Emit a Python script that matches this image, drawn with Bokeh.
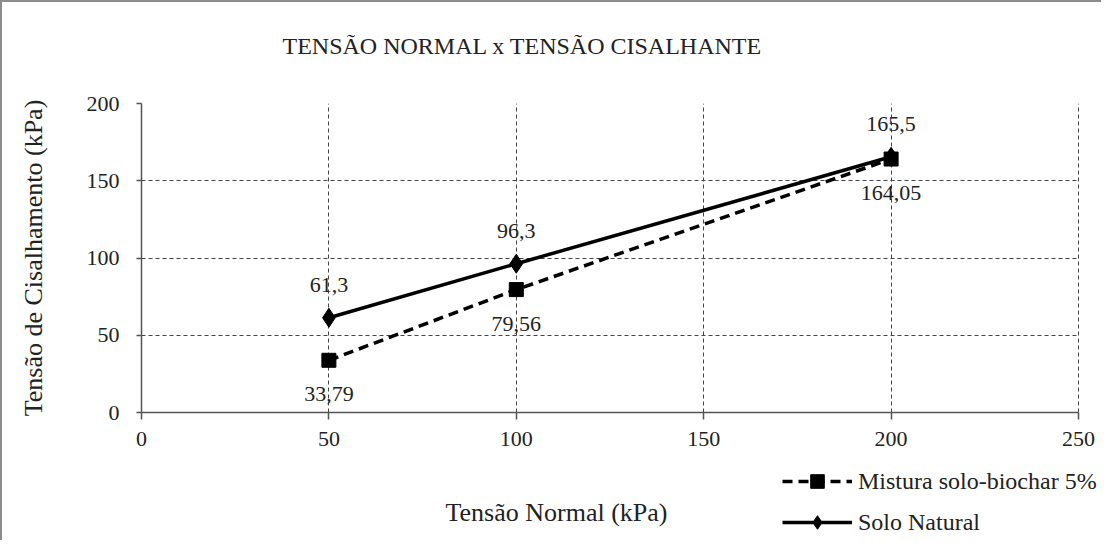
from bokeh.plotting import figure
from bokeh.layouts import column
from bokeh.models import Legend, LegendItem, FixedTicker, ColumnDataSource, Range1d, Label
from bokeh.core.properties import value
from bokeh.embed import file_html
from bokeh.resources import INLINE

tensao_normal = [50, 100, 200]
mistura = [33.79, 79.56, 164.05]
natural = [61.3, 96.3, 165.5]
mistura_labels = ["33,79", "79,56", "164,05"]
natural_labels = ["61,3", "96,3", "165,5"]
x_ticks = [0, 50, 100, 150, 200, 250]
y_ticks = [0, 50, 100, 150, 200]

FONT = "Liberation Serif"
TXT = "#222222"
BORDER = "2px solid #8c8c8c"

# frame runs a little past x=250 so the legend below has room; axis/grid stop at 250
X_MAX = 250
X_VIEW = X_MAX * 961 / 937


def strip(height, styles):
    f = figure(width=1101, height=height, output_backend="svg", toolbar_location=None,
               x_range=Range1d(0, 1), y_range=Range1d(0, 1),
               x_axis_location=None, y_axis_location=None,
               min_border_left=139, min_border_right=1, min_border_top=0, min_border_bottom=0)
    f.styles = styles
    f.outline_line_color = None
    f.xgrid.visible = False
    f.ygrid.visible = False
    return f


# ---------------- top strip: chart title ----------------
t = strip(80, {"border-left": BORDER, "border-top": BORDER})
t.add_layout(Label(x=384, y=37, x_units="screen", y_units="screen",
                   text="TENSÃO NORMAL x TENSÃO  CISALHANTE", text_font=FONT,
                   text_font_size="24px", text_align="center", text_baseline="middle",
                   text_color=TXT))

# ---------------- main chart ----------------
p = figure(width=1101, height=382, output_backend="svg", toolbar_location=None,
           x_range=Range1d(0, X_VIEW), y_range=Range1d(0, 200),
           min_border_left=139, min_border_right=1, min_border_top=23, min_border_bottom=50)
p.styles = {"border-left": BORDER}
p.outline_line_color = None

for ax, ticks in ((p.xaxis, x_ticks), (p.yaxis, y_ticks)):
    ax.ticker = FixedTicker(ticks=ticks)
    ax.minor_tick_line_color = None
    ax.major_tick_in = 0
    ax.axis_line_color = "#555555"
    ax.axis_line_width = 1.5
    ax.major_tick_line_color = "#555555"
    ax.major_tick_line_width = 1.5
    ax.major_label_text_font = FONT
    ax.major_label_text_font_size = "22px"
    ax.major_label_text_color = TXT
p.xaxis.bounds = (0, X_MAX)
p.xaxis.major_tick_out = 7
p.xaxis.major_label_standoff = 12
p.yaxis.major_tick_out = 5
p.yaxis.major_label_standoff = 17

p.yaxis.axis_label = "Tensão de Cisalhamento (kPa)"
p.yaxis.axis_label_text_font = FONT
p.yaxis.axis_label_text_font_style = "normal"
p.yaxis.axis_label_text_font_size = "26px"
p.yaxis.axis_label_text_color = TXT
p.yaxis.axis_label_standoff = 36

for g in (p.xgrid, p.ygrid):
    g.grid_line_color = "#444444"
    g.grid_line_dash = "4 3"
    g.grid_line_width = 1
p.xgrid.ticker = FixedTicker(ticks=x_ticks[1:])
p.ygrid.ticker = FixedTicker(ticks=y_ticks[1:])
try:
    p.ygrid.cross_bounds = (0, X_MAX)
except Exception:
    pass

src = ColumnDataSource(dict(x=tensao_normal, m=mistura, n=natural,
                            ml=mistura_labels, nl=natural_labels))

line_m = dict(line_color="black", line_width=3.5, line_dash="10 6")
line_n = dict(line_color="black", line_width=3.5)
mark_m = dict(marker="square", size=14, color="black")
mark_n = dict(marker="diamond", size=19, color="black")

p.line("x", "m", source=src, **line_m)
p.scatter("x", "m", source=src, **mark_m)
p.line("x", "n", source=src, **line_n)
p.scatter("x", "n", source=src, **mark_n)

p.text("x", "n", text="nl", source=src, text_font=value(FONT), text_font_size="22px",
       text_align="center", text_baseline="middle", y_offset=-33, text_color=TXT)
p.text("x", "m", text="ml", source=src, text_font=value(FONT), text_font_size="22px",
       text_align="center", text_baseline="middle", y_offset=34, text_color=TXT)

# ---------------- bottom strip: x-axis title + legend ----------------
q = strip(78, {"border-left": BORDER})
q.add_layout(Label(x=415, y=28, x_units="screen", y_units="screen",
                   text="Tensão Normal (kPa)", text_font=FONT,
                   text_font_size="26px", text_align="center", text_baseline="middle",
                   text_color=TXT))

# legend proxies (same data, lying outside this strip's view)
lm = q.line("x", "m", source=src, **line_m)
sm = q.scatter("x", "m", source=src, **mark_m)
ln = q.line("x", "n", source=src, **line_n)
sn = q.scatter("x", "n", source=src, **mark_n)

legend = Legend(items=[LegendItem(label="Mistura solo-biochar 5%", renderers=[lm, sm]),
                       LegendItem(label="Solo Natural", renderers=[ln, sn])],
                location=(641, 1), orientation="vertical",
                glyph_width=70, glyph_height=34, label_standoff=6, spacing=7,
                label_height=24,
                label_text_font=FONT, label_text_font_size="24px",
                label_text_color=TXT, background_fill_alpha=0,
                border_line_color=None, padding=0, margin=0)
q.add_layout(legend, "center")

layout = column(t, p, q, spacing=0)
open("out.html", "w").write(file_html(layout, INLINE))
